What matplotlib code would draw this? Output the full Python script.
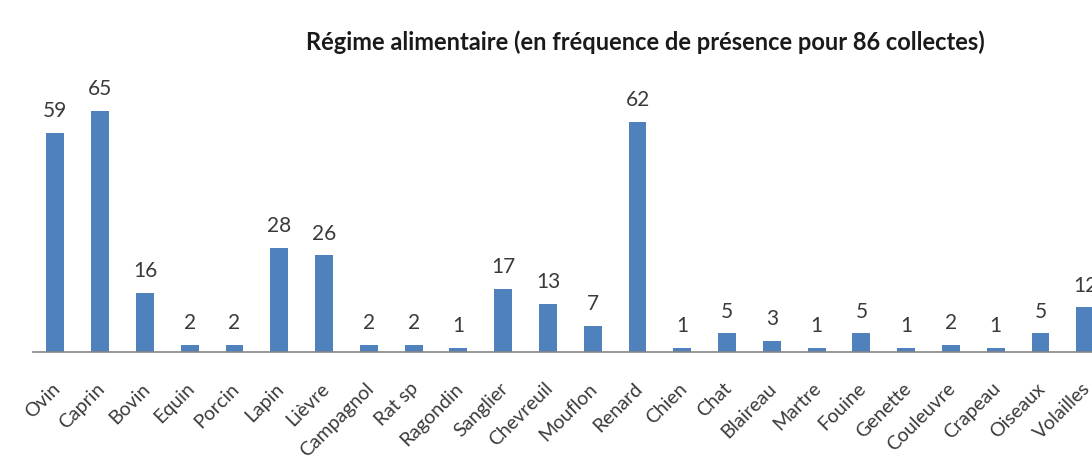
import numpy as np
import matplotlib.pyplot as plt
import matplotlib.transforms as mtransforms

categories = ["Ovin", "Caprin", "Bovin", "Equin", "Porcin", "Lapin", "Lièvre",
              "Campagnol", "Rat sp", "Ragondin", "Sanglier", "Chevreuil",
              "Mouflon", "Renard", "Chien", "Chat", "Blaireau", "Martre",
              "Fouine", "Genette", "Couleuvre", "Crapeau", "Oiseaux", "Volailles"]
values = [59, 65, 16, 2, 2, 28, 26, 2, 2, 1, 17, 13, 7, 62, 1, 5, 3, 1, 5, 1, 2, 1, 5, 12]

plt.rcParams['font.family'] = ['Lato', 'DejaVu Sans']
text_col = "#3a3a3a"

fig = plt.figure(figsize=(10.92, 4.66), dpi=100)
ax = fig.add_axes([33 / 1092, 114 / 466, (1092 - 33) / 1092, 260 / 466])

x = np.arange(len(categories))
ax.bar(x, values, width=0.4, color="#4F81BD")
for xi, v in zip(x, values):
    ax.text(xi, v + 3.2, str(v), ha="center", va="bottom", fontsize=15, color=text_col)

ax.set_xlim(-0.5, 23.15)
ax.set_ylim(0, 70)
ax.set_yticks([])
for side in ["top", "right", "left"]:
    ax.spines[side].set_visible(False)
ax.spines["bottom"].set_color("#868686")
ax.spines["bottom"].set_linewidth(1.2)

ax.set_xticks(x)
ax.set_xticklabels(categories, rotation=45, ha="right", va="top",
                   rotation_mode="anchor", fontsize=14, color=text_col)
ax.tick_params(axis="x", length=0, pad=20)
shift = mtransforms.ScaledTranslation(-4 / 100, 0, fig.dpi_scale_trans)
for lab in ax.get_xticklabels():
    lab.set_transform(lab.get_transform() + shift)

fig.text(645 / 1092, 1 - 42 / 466, "Régime alimentaire (en fréquence de présence pour 86 collectes)",
         ha="center", va="center", fontsize=17, fontweight="bold", color="#1a1a1a")

fig.savefig("out.png", dpi=100)
